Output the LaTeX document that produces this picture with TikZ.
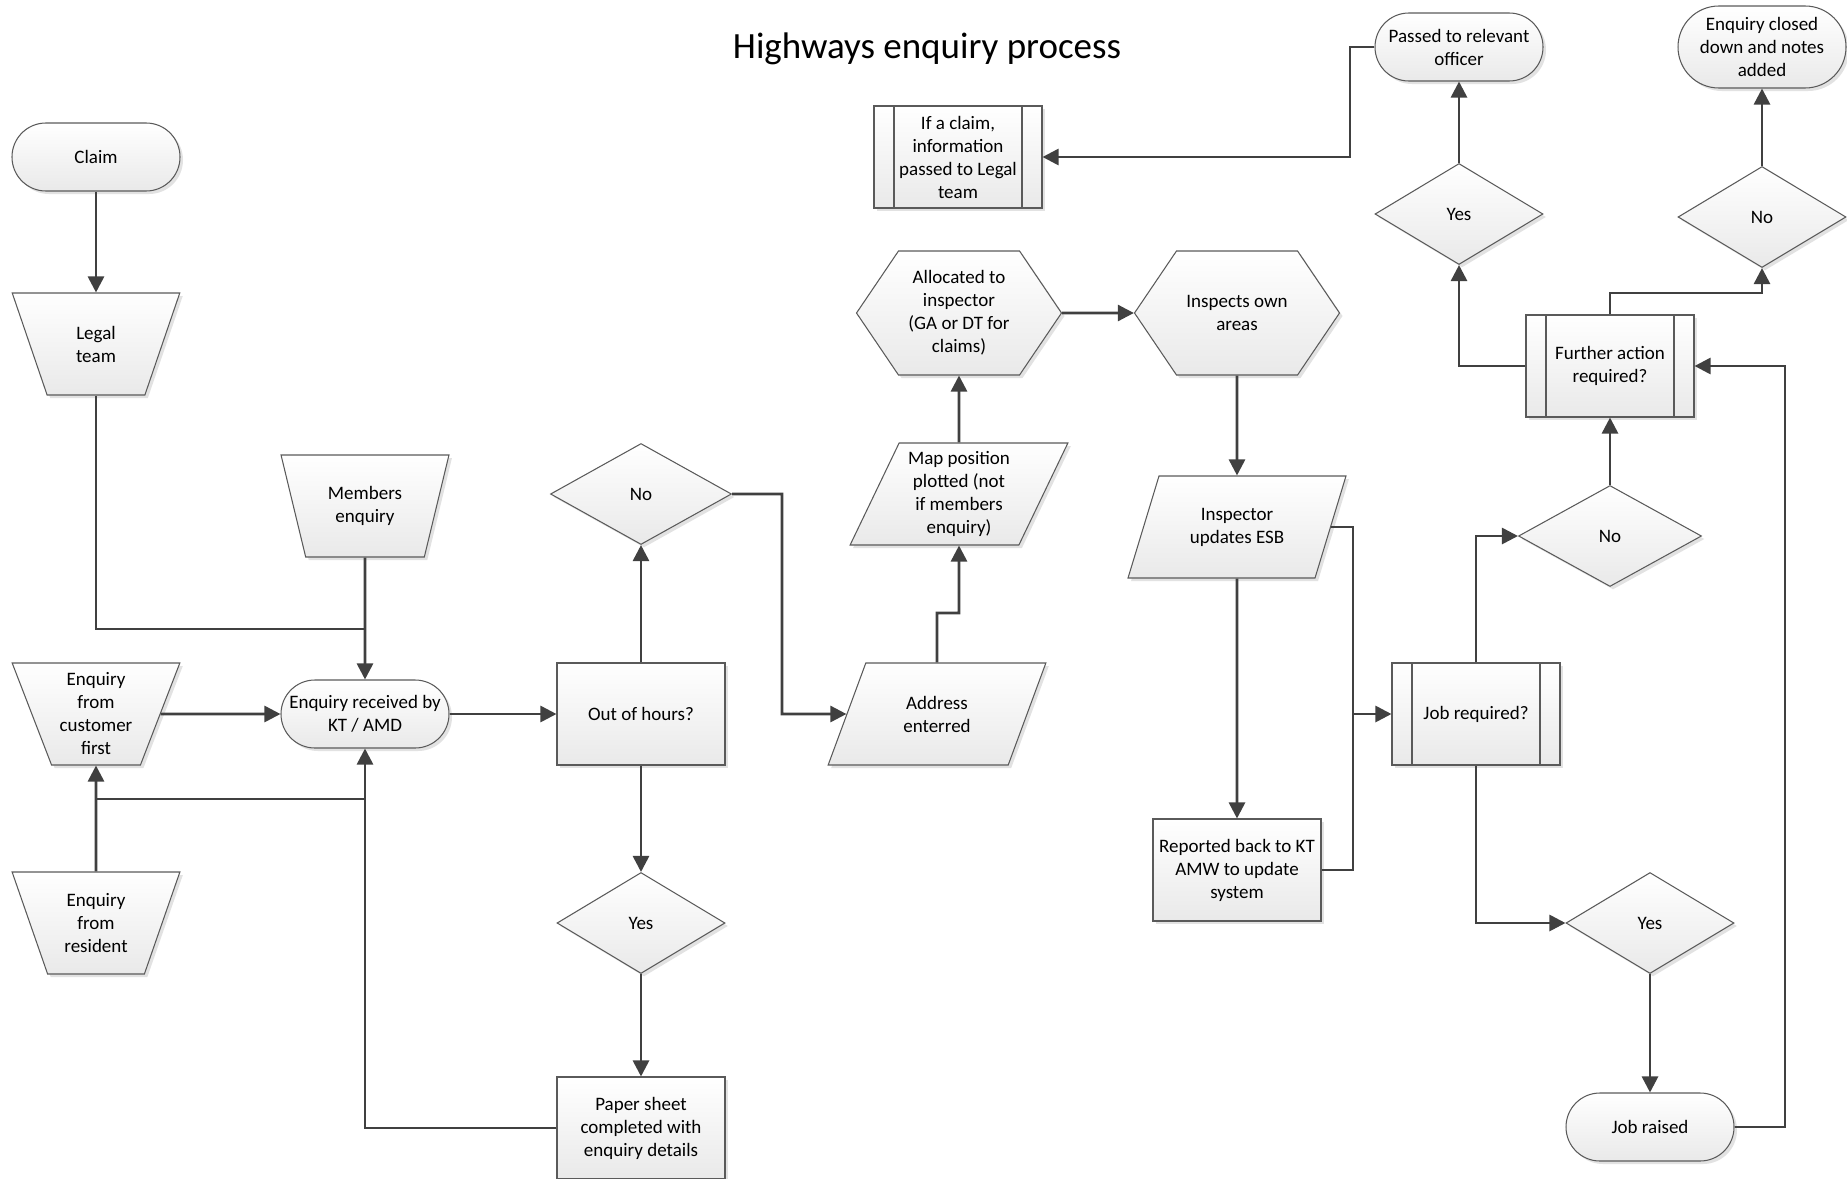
\documentclass[tikz,border=0pt]{standalone}
\usepackage{fontspec}
\setmainfont{Carlito}
\usetikzlibrary{shapes.geometric,shapes.symbols,shadows,arrows.meta}

\definecolor{edgegray}{HTML}{5A5A5A}
\definecolor{linkgray}{HTML}{404040}
\definecolor{fillbottom}{HTML}{E9E9E9}

\tikzset{
  base/.style={draw=edgegray, line width=1.05pt, top color=white, bottom color=fillbottom,
    drop shadow={shadow xshift=3pt, shadow yshift=-3pt, fill=black!25, opacity=0.45},
    font=\fontsize{19}{23}\selectfont, align=center, inner sep=1pt},
  procbox/.style={base, rectangle, minimum width=168pt, minimum height=102pt},
  subproc/.style={procbox, path picture={
      \draw[edgegray, line width=1.05pt]
        ([xshift=20pt]path picture bounding box.north west) -- ([xshift=20pt]path picture bounding box.south west)
        ([xshift=-20pt]path picture bounding box.north east) -- ([xshift=-20pt]path picture bounding box.south east);}},
  terminal/.style={base, rectangle, rounded corners=33.9pt, minimum width=168pt, minimum height=68pt},
  decision/.style={base, diamond, aspect=1.65, minimum width=168pt, minimum height=101pt, inner sep=0pt},
  manual/.style={base, trapezium, trapezium left angle=111.4, trapezium right angle=111.4,
    trapezium stretches=true, minimum width=168pt, minimum height=102pt, inner sep=0pt},
  dataio/.style={base, trapezium, trapezium left angle=63.9, trapezium right angle=116.1,
    trapezium stretches=true, minimum width=218pt, minimum height=102pt, inner sep=0pt},
  prep/.style={base, signal, signal to=east and west, signal pointer angle=111.8,
    minimum width=205pt, minimum height=124pt, inner sep=0pt},
  link/.style={draw=linkgray, line width=2.7pt},
  flow/.style={link, -{Triangle[length=16pt,width=16pt]}},
}

\begin{document}
\begin{tikzpicture}[x=1pt,y=-1pt]
\useasboundingbox (0,0) rectangle (1847,1178);

% title
\node[font=\fontsize{37}{44}\selectfont, anchor=base] (title) at (927,58) {Highways enquiry process};

% left column: sources of an enquiry
\node[terminal] (claim) at (96,157) {Claim};
\node[manual] (legal) at (96,344) {Legal\\team};
\node[manual] (members) at (365,506) {Members\\enquiry};
\node[manual] (customer) at (96,714) {Enquiry\\from\\customer\\first};
\node[terminal] (received) at (365,714) {Enquiry received by\\KT / AMD};
\node[manual] (resident) at (96,923) {Enquiry\\from\\resident};

% out of hours handling
\node[procbox] (hours) at (641,714) {Out of hours?};
\node[decision, minimum width=181pt] (nohours) at (641,494) {No};
\node[decision] (yeshours) at (641,923) {Yes};
\node[procbox] (paper) at (641,1128) {Paper sheet\\completed with\\enquiry details};

% recording and inspection
\node[dataio] (address) at (937,714) {Address\\enterred};
\node[dataio] (mappos) at (959,494) {Map position\\plotted (not\\if members\\enquiry)};
\node[prep] (alloc) at (959,313) {Allocated to\\inspector\\(GA or DT for\\claims)};
\node[prep] (inspects) at (1237,313) {Inspects own\\areas};
\node[subproc] (legalinfo) at (958,157) {If a claim,\\information\\passed to Legal\\team};
\node[dataio] (esb) at (1237,527) {Inspector\\updates ESB};
\node[procbox] (reported) at (1237,870) {Reported back to KT\\AMW to update\\system};

% outcome
\node[subproc] (jobreq) at (1476,714) {Job required?};
\node[decision, minimum width=183pt] (nojob) at (1610,536) {No};
\node[decision] (yesjob) at (1650,923) {Yes};
\node[terminal] (raised) at (1650,1127) {Job raised};
\node[subproc] (further) at (1610,366) {Further action\\required?};
\node[decision] (yesfurther) at (1459,214) {Yes};
\node[decision] (nofurther) at (1762,217) {No};
\node[terminal] (passed) at (1459,47) {Passed to relevant\\officer};
\node[terminal, rounded corners=40.9pt, minimum height=82pt] (closed) at (1762,47) {Enquiry closed\\down and notes\\added};

% bend points of the connectors
\coordinate (jlegal) at (365,629);
\coordinate (jres) at (365,799);
\coordinate (jno) at (782,714);
\coordinate (jaddr) at (959,613);
\coordinate (jesb) at (1353,870);
\coordinate (jjob) at (1353,714);
\coordinate (jraised) at (1785,366);
\coordinate (jfurther) at (1762,293);
\coordinate (jpassed) at (1350,157);

% connectors
\draw[flow] (claim) -- (legal);
\draw[link] (legal.south) |- (jlegal);
\draw[flow] (members) -- (received);
\draw[flow] (customer.east) -- (received.west);
\draw[flow] (resident) -- (customer);
\draw[link] (customer.south |- jres) -- (jres);
\draw[flow] (paper.west) -| (received.south);
\draw[flow] (received) -- (hours);
\draw[flow] (hours) -- (nohours);
\draw[flow] (hours) -- (yeshours);
\draw[flow] (yeshours) -- (paper);
\draw[flow] (nohours.east) -| (jno) -- (address.west);
\draw[flow] (address.north) |- (jaddr) -- (mappos.south);
\draw[flow] (mappos) -- (alloc);
\draw[flow] (alloc) -- (inspects);
\draw[flow] (inspects) -- (esb);
\draw[flow] (esb) -- (reported);
\draw[link] (esb.east) -| (jesb) -- (reported.east);
\draw[flow] (jjob) -- (jobreq.west);
\draw[flow] (jobreq.north) |- (nojob.west);
\draw[flow] (jobreq.south) |- (yesjob.west);
\draw[flow] (nojob) -- (further);
\draw[flow] (yesjob) -- (raised);
\draw[flow] (raised.east) -| (jraised) -- (further.east);
\draw[flow] (further.west) -| (yesfurther.south);
\draw[flow] (further.north) |- (jfurther) -- (nofurther.south);
\draw[flow] (yesfurther) -- (passed);
\draw[flow] (nofurther) -- (closed);
\draw[flow] (passed.west) -| (jpassed) -- (legalinfo.east);
\end{tikzpicture}
\end{document}
